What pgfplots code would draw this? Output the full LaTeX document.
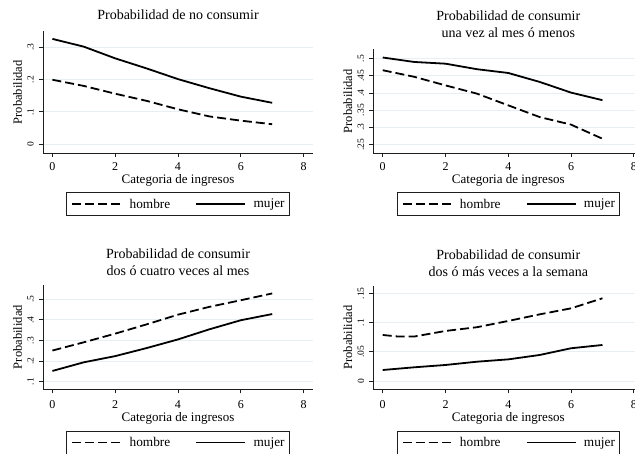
\documentclass[border=0pt]{standalone}
\usepackage{fontspec}
\setmainfont{Liberation Serif}
\usepackage{pgfplots}
\pgfplotsset{compat=1.18}

\definecolor{gridc}{RGB}{230,239,241}
\definecolor{axc}{RGB}{30,30,30}

\pgfplotsset{
  stata/.style={
    scale only axis, width=270pt,
    axis lines=left, axis line style={-, axc, line width=0.9pt},
    xmin=-0.3, xmax=8.3,
    xtick={0,2,4,6,8}, xticklabels={0,2,4,6,8},
    /pgf/number format/assume math mode=true,
    tick align=outside, major tick length=4pt,
    tick style={axc, line width=0.8pt},
    ymajorgrids, grid style={gridc, line width=0.8pt},
    xticklabel style={font=\fontsize{12}{12}\selectfont, inner sep=0pt, anchor=north},
    xticklabel shift=5pt,
    yticklabel style={font=\fontsize{9.5}{9.5}\selectfont, inner sep=0pt, rotate=90, anchor=south},
    yticklabel shift=5pt,
    xlabel={Categoria de ingresos},
    xlabel style={at={(axis description cs:0.5,0)}, anchor=north, inner sep=0pt, yshift=-21pt, font=\fontsize{13}{13}\selectfont},
    ylabel={Probabilidad},
    ylabel style={at={(axis description cs:-0.0944,0.5)}, anchor=center, inner sep=0pt, font=\fontsize{12.5}{12.5}\selectfont},
    title style={at={(axis description cs:0.5,1)}, anchor=south, inner sep=0pt, yshift=6pt, align=center, font=\fontsize{14}{17}\selectfont},
    legend columns=2,
    legend style={at={(axis description cs:0.5,0)}, anchor=north, yshift=-39.5pt,
      draw=axc, line width=0.8pt, inner xsep=4.5pt, inner ysep=6pt,
      font=\fontsize{13.3}{14}\selectfont,
      /tikz/every odd column/.append style={column sep=7.5pt},
      /tikz/every even column/.append style={column sep=25pt},
      nodes={inner sep=0pt}},
    legend image code/.code={\draw[#1, line width=1.8pt] (0pt,0pt) -- (49pt,0pt);},
  },
  bottomrow/.style={
    xticklabel shift=7pt,
    xlabel style={yshift=-1.5pt},
    legend style={yshift=-2pt},
    title style={yshift=-2.5pt},
  },
  hom/.style={black, line width=1.8pt, dash pattern=on 9pt off 4pt, line join=round},
  muj/.style={black, line width=1.8pt, line join=round},
}

\begin{document}
\begin{tikzpicture}
% Panel 1
\begin{axis}[stata, at={(43pt,301pt)}, anchor=south west, height=121.5pt,
  ymin=-0.0267, ymax=0.3478,
  ytick={0,0.1,0.2,0.3}, yticklabels={0,.1,.2,.3},
  title={Probabilidad de no consumir}]
\addplot[hom] coordinates {(0,0.199) (1,0.180) (2,0.156) (3,0.134) (4,0.108) (5,0.086) (6,0.073) (7,0.062)};
\addplot[muj] coordinates {(0,0.325) (1,0.301) (2,0.265) (3,0.234) (4,0.201) (5,0.173) (6,0.147) (7,0.128)};
\legend{hombre, mujer}
\end{axis}
% Panel 2
\begin{axis}[stata, at={(373.3pt,301pt)}, anchor=south west, height=103.5pt,
  ymin=0.2257, ymax=0.5262,
  ytick={0.25,0.3,0.35,0.4,0.45,0.5}, yticklabels={.25,.3,.35,.4,.45,.5},
  title={Probabilidad de consumir\\una vez al mes ó menos}]
\addplot[hom] coordinates {(0,0.466) (1,0.447) (2,0.422) (3,0.398) (4,0.364) (5,0.330) (6,0.308) (7,0.267)};
\addplot[muj] coordinates {(0,0.503) (1,0.490) (2,0.485) (3,0.469) (4,0.458) (5,0.432) (6,0.401) (7,0.379)};
\legend{hombre, mujer}
\end{axis}
% Panel 3
\begin{axis}[stata, bottomrow, at={(43pt,64.7pt)}, anchor=south west, height=104.3pt,
  ymin=0.063, ymax=0.569,
  ytick={0.1,0.2,0.3,0.4,0.5}, yticklabels={.1,.2,.3,.4,.5},
  title={Probabilidad de consumir\\dos ó cuatro veces al mes}]
\addplot[hom] coordinates {(0,0.251) (1,0.291) (2,0.333) (3,0.378) (4,0.425) (5,0.463) (6,0.495) (7,0.528)};
\addplot[muj] coordinates {(0,0.152) (1,0.194) (2,0.224) (3,0.263) (4,0.305) (5,0.354) (6,0.398) (7,0.428)};
\legend{hombre, mujer}
\end{axis}
% Panel 4
\begin{axis}[stata, bottomrow, at={(373.3pt,64.7pt)}, anchor=south west, height=103.3pt,
  ymin=-0.0142, ymax=0.1625,
  ytick={0,0.05,0.1,0.15}, yticklabels={0,.05,.1,.15},
  title={Probabilidad de consumir\\dos ó más veces a la semana}]
\addplot[hom] coordinates {(0,0.0787) (0.5,0.076) (1,0.076) (2,0.0856) (3,0.092) (4,0.1027) (5,0.114) (6,0.1243) (7,0.1415)};
\addplot[muj] coordinates {(0,0.0188) (1,0.0234) (2,0.0274) (3,0.033) (4,0.037) (5,0.0445) (6,0.056) (7,0.0616)};
\legend{hombre, mujer}
\end{axis}
\pgfresetboundingbox
\path (0,0) rectangle (635pt,454pt);
\end{tikzpicture}
\end{document}
